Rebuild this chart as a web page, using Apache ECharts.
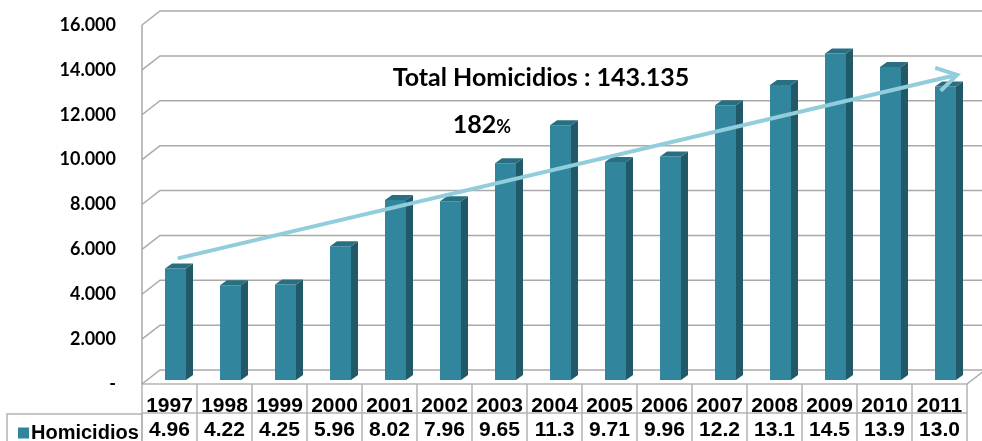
<!DOCTYPE html>
<html>
<head>
<meta charset="utf-8">
<script src="https://cdn.jsdelivr.net/npm/echarts@6/dist/echarts.min.js"></script>
<style>
html,body{margin:0;padding:0;background:#fff;}
#chart{width:982px;height:441px;}
</style>
</head>
<body>
<div id="chart"></div>
<script>
// ---- data ----
const years = ['1997','1998','1999','2000','2001','2002','2003','2004','2005','2006','2007','2008','2009','2010','2011'];
const homicidios = [4965, 4225, 4255, 5965, 8025, 7965, 9655, 11350, 9715, 9965, 12250, 13150, 14550, 13950, 13080];
const valueLabels = ['4.96','4.22','4.25','5.96','8.02','7.96','9.65','11.3','9.71','9.96','12.2','13.1','14.5','13.9','13.0'];
const yTicks = [0, 2000, 4000, 6000, 8000, 10000, 12000, 14000, 16000];
const yTickLabels = ['-', '2.000', '4.000', '6.000', '8.000', '10.000', '12.000', '14.000', '16.000'];
// trend arrow: [xStart, yStart, xEnd, yEnd] on category-index / value scale
const trendArrow = [0.15, 5600, 14.32, 13780];
const totalText = 'Total Homicidios : 143.135';
const pctText = '182';

// ---- styles ----
const FRONT = '#31859c', SIDE = '#215968', TOP = '#296f82';
const GRIDC = '#a9a9a9', TABLEC = '#b4b4b4';
const DEPTH_WALL = [18, 14];

const chart = echarts.init(document.getElementById('chart'));

function renderFrame(params, api) {
  const v = api.value(0);
  const cs = params.coordSys;
  const p = api.coord([0, v]);
  const x0 = cs.x, y = p[1];
  const children = [{
    type: 'polyline',
    shape: { points: [[x0, y], [x0 + DEPTH_WALL[0], y - DEPTH_WALL[1]], [982, y - DEPTH_WALL[1]]] },
    style: { stroke: GRIDC, lineWidth: 1.5, fill: null }
  }];
  if (params.dataIndex === 0) {
    const yb = cs.y + cs.height, yt = cs.y;
    const xr = cs.x + cs.width;
    children.push({ type: 'line', shape: { x1: x0, y1: yt, x2: x0, y2: yb }, style: { stroke: GRIDC, lineWidth: 1.5 } });
    children.push({ type: 'line', shape: { x1: xr, y1: yb, x2: xr + DEPTH_WALL[0], y2: yb - DEPTH_WALL[1] }, style: { stroke: GRIDC, lineWidth: 1.5 } });
  }
  return { type: 'group', children };
}

function renderBar(params, api) {
  const i = api.value(0), v = api.value(1);
  const top = api.coord([i, v]);
  const base = api.coord([i, 0]);
  const fw = 21, dx = 7, dy = 5, sh = 4;
  const fx = top[0] - 4.5;
  const ty = top[1] - sh, by = base[1] - sh;
  return {
    type: 'group',
    children: [
      { type: 'rect', shape: { x: fx, y: ty, width: fw, height: by - ty }, style: { fill: FRONT } },
      { type: 'polygon', shape: { points: [[fx + fw, ty], [fx + fw + dx, ty - dy], [fx + fw + dx, by - dy], [fx + fw, by]] }, style: { fill: SIDE } },
      { type: 'polygon', shape: { points: [[fx, ty], [fx + dx, ty - dy], [fx + fw + dx, ty - dy], [fx + fw, ty]] }, style: { fill: TOP } }
    ]
  };
}

function renderArrow(params, api) {
  const a = api.coord([api.value(0), api.value(1)]);
  const b = api.coord([api.value(2), api.value(3)]);
  const ang = Math.atan2(a[1] - b[1], a[0] - b[0]);
  const L = 23, spread = 31 * Math.PI / 180;
  const h1 = [b[0] + L * Math.cos(ang + spread), b[1] + L * Math.sin(ang + spread)];
  const h2 = [b[0] + L * Math.cos(ang - spread), b[1] + L * Math.sin(ang - spread)];
  const st = { stroke: '#92cddc', lineWidth: 4, fill: null, lineCap: 'butt', lineJoin: 'miter' };
  return {
    type: 'group',
    children: [
      { type: 'line', shape: { x1: a[0], y1: a[1], x2: b[0] - 2 * Math.cos(ang + Math.PI), y2: b[1] - 2 * Math.sin(ang + Math.PI) }, style: st },
      { type: 'polyline', shape: { points: [h1, b, h2] }, style: st }
    ]
  };
}

const option = {
  backgroundColor: '#fff',
  animation: false,
  legend: {
    left: 13, top: 418,
    itemWidth: 11, itemHeight: 11,
    data: [{ name: 'Homicidios', icon: 'rect' }],
    textStyle: { fontFamily: 'Liberation Sans', fontWeight: 'bold', fontSize: 20, color: '#000', padding: [0, 0, 0, -3] },
    selectedMode: false
  },
  grid: { left: 142, right: 15, top: 25, bottom: 56 },
  xAxis: [
    {
      type: 'category', data: years, position: 'bottom',
      axisLine: { show: true, lineStyle: { color: TABLEC, width: 1.5 } },
      axisTick: { show: true, interval: 0, length: 29, lineStyle: { color: TABLEC, width: 1.5 } },
      axisLabel: { interval: 0, margin: 12, fontFamily: 'Liberation Sans', fontWeight: 'bold', fontSize: 21, color: '#000' },
      splitLine: { show: false }
    },
    {
      type: 'category', data: valueLabels, position: 'bottom', offset: 29,
      axisLine: { show: true, lineStyle: { color: TABLEC, width: 1.5 } },
      axisTick: { show: true, interval: 0, length: 30, lineStyle: { color: TABLEC, width: 1.5 } },
      axisLabel: { interval: 0, margin: 7, fontFamily: 'Liberation Sans', fontWeight: 'bold', fontSize: 21, color: '#000' },
      splitLine: { show: false }
    },
    { type: 'value', min: -0.5, max: 14.5, show: false }
  ],
  yAxis: {
    type: 'value', min: 0, max: 16000, interval: 2000,
    axisLine: { show: false }, axisTick: { show: false }, splitLine: { show: false },
    axisLabel: {
      margin: 26, fontFamily: 'Lato', fontWeight: 'bold', fontSize: 18, color: '#000',
      formatter: function (v) { const k = yTicks.indexOf(v); return k >= 0 ? yTickLabels[k] : ''; }
    }
  },
  graphic: [
    { type: 'rect', shape: { x: 7, y: 414, width: 135, height: 30 }, style: { fill: null, stroke: TABLEC, lineWidth: 1.5 }, z: 1 },
    { type: 'text', x: 541, y: 78, z: 100, style: { text: totalText, fontFamily: 'Lato', fontWeight: 'bold', fontSize: 25, fill: '#000', align: 'center', verticalAlign: 'middle' } },
    { type: 'text', x: 482, y: 125, z: 100, style: { text: '{a|' + pctText + '}{b|%}', align: 'center', verticalAlign: 'middle',
        rich: { a: { fontFamily: 'Lato', fontWeight: 'bold', fontSize: 25, fill: '#000' }, b: { fontFamily: 'Lato', fontWeight: 'bold', fontSize: 18, fill: '#000', padding: [4, 0, 0, 0] } } } }
  ],
  series: [
    { type: 'custom', name: 'frame', xAxisIndex: 0, yAxisIndex: 0, renderItem: renderFrame, data: yTicks.map(v => [v]), z: 1, silent: true, encode: { y: 0 } },
    { type: 'custom', name: 'Homicidios', xAxisIndex: 0, yAxisIndex: 0, renderItem: renderBar,
      itemStyle: { color: FRONT },
      data: homicidios.map((v, i) => [i, v]), encode: { x: 0, y: 1 }, z: 2 },
    { type: 'custom', name: 'trend', xAxisIndex: 2, yAxisIndex: 0, renderItem: renderArrow,
      data: [trendArrow], encode: { x: [0, 2], y: [1, 3] }, z: 5, silent: true }
  ]
};
chart.setOption(option);
</script>
</body>
</html>
